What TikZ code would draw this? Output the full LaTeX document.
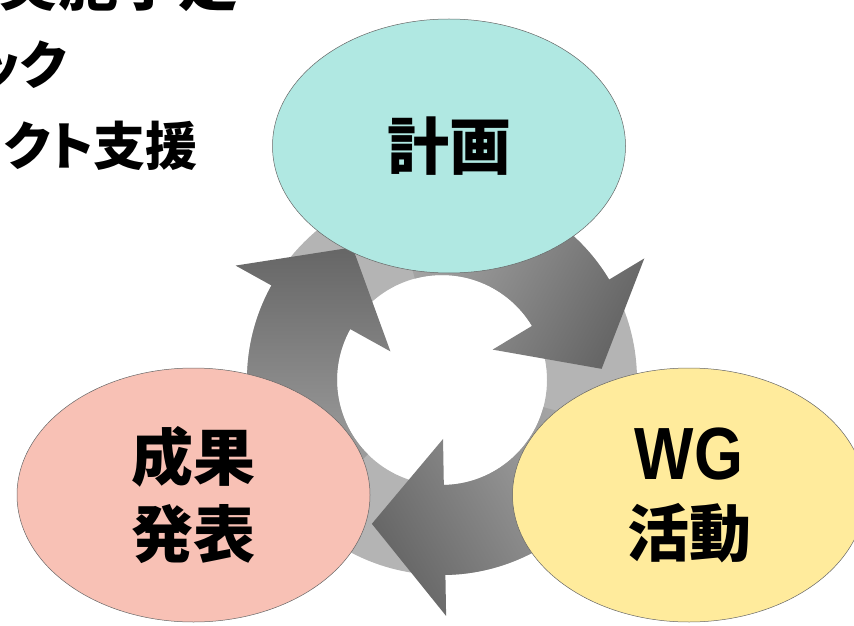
\documentclass[tikz,border=0pt]{standalone}
\usepackage{fontspec}
\newfontfamily\jpfont{Noto Sans CJK JP}
\newfontfamily\jpkana{Noto Sans CJK JP}[RawFeature=+palt]
\newfontfamily\wgfont{Liberation Sans}[FakeStretch=0.85]
\usetikzlibrary{shapes.geometric}
\definecolor{plancyan}{HTML}{B0E8E2}
\definecolor{resultpink}{HTML}{F8C1B5}
\definecolor{wgyellow}{HTML}{FFEB9C}
\definecolor{ringgray}{HTML}{B4B4B4}
\definecolor{arrowlight}{HTML}{ACACAC}
\definecolor{arrowdark}{HTML}{666666}
\tikzset{
  stage/.style={ellipse, draw=gray!80!black, line width=0.5pt, minimum width=353pt, minimum height=254pt,
    inner sep=0pt, align=center, font=\jpfont\bfseries\fontsize{62}{77}\selectfont},
  cyclearrow/.style={top color=arrowlight, bottom color=arrowdark},
  cuttext/.style={anchor=east, inner sep=0pt}
}

\begin{document}
\begin{tikzpicture}[x=1pt,y=1pt]
  \useasboundingbox (0,0) rectangle (854,625);
  \clip (0,0) rectangle (854,625);

  % text at the top left, cut by the edge
  \node[cuttext, font=\jpkana\bfseries\fontsize{60}{60}\selectfont] (plan1) at (239,642) {実施予定};
  \node[cuttext, font=\jpkana\bfseries\fontsize{52}{52}\selectfont] (plan2) at (67,560) {ック};
  \node[cuttext, font=\jpkana\bfseries\fontsize{52}{52}\selectfont] (plan3) at (198,479) {ェクト支援};

  % cycle ring
  \coordinate (C) at (442,245);
  \fill[ringgray, even odd rule] (C) circle[radius=195] (C) circle[radius=105];
  \begin{scope}[shift={(C)}]
    \foreach \a/\s [evaluate=\a as \b using \a-74, evaluate=\a as \t using \a-101] in {225/180, 105/61, 345/-60}
      \shade[cyclearrow, shading angle=\s] (\a:105) arc[start angle=\a, end angle=\b, radius=105]
        -- (\b:59) -- (\t:160) -- (\b:236) -- (\b:195) arc[start angle=\b, end angle=\a, radius=195] -- cycle;
  \end{scope}

  \node[stage, fill=plancyan] (keikaku) at (449,479) {計画};
  \node[stage, fill=resultpink] (seika) at (193.5,130) {成果\\発表};
  \node[stage, fill=wgyellow] (wg) at (689,130) {{\wgfont\fontsize{74}{77}\selectfont WG}\\活動};
\end{tikzpicture}
\end{document}
